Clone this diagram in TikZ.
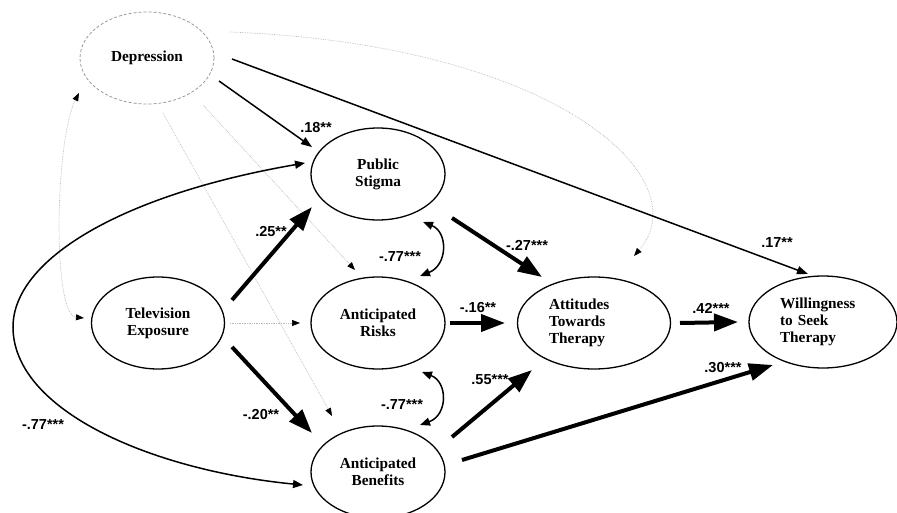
\documentclass[tikz,border=0pt]{standalone}
\usepackage{fontspec}
\setmainfont{Liberation Serif}
\newfontfamily\coeffont{Liberation Sans}
\usetikzlibrary{arrows.meta,shapes.geometric,calc}
\begin{document}
\begin{tikzpicture}[x=1pt,y=-1pt,
  ell/.style={ellipse, draw=black, line width=1.3pt, inner sep=0pt,
    minimum width=134pt, minimum height=92pt,
    font=\fontsize{15.3}{17}\selectfont\bfseries, align=center},
  dashell/.style={ell, draw=gray!80, line width=0.8pt, densely dashed},
  coef/.style={font=\coeffont\fontsize{14.5}{16}\selectfont\bfseries, inner sep=0pt},
  big/.style={line width=4pt, -{Triangle[length=24pt,width=17pt]}},
  mid/.style={line width=1.5pt, -{Triangle[length=11pt,width=8pt]}},
  dots/.style={draw=gray!55, line width=0.7pt, densely dotted,
    -{Triangle[length=8pt,width=6pt,color=black]}},
  dotstwo/.style={draw=gray!55, line width=0.7pt, densely dotted,
    {Triangle[length=8pt,width=6pt,color=black]}-{Triangle[length=8pt,width=6pt,color=black]}},
  twoway/.style={line width=1.5pt,
    {Triangle[length=10pt,width=8pt]}-{Triangle[length=10pt,width=8pt]}},
]
\useasboundingbox (0,0) rectangle (897,513);

% nodes
\node[dashell] (dep) at (147,58) {Depression};
\node[ell] (ps) at (378,174) {Public\\Stigma};
\node[ell, minimum width=133pt] (tv) at (158,323) {Television\\Exposure};
\node[ell] (ar) at (378,323) {Anticipated\\Risks};
\node[ell] (ab) at (378,472) {Anticipated\\Benefits};
\node[ell, minimum width=153pt, text width=90pt, align=left] (att) at (594,323) {Attitudes\\Towards\\Therapy};
\node[ell, minimum width=148pt, text width=86pt, align=left] (will) at (823,322) {Willingness\\to Seek\\Therapy};

% dotted paths
\draw[dotstwo] ($(dep.center)+(-68,35)$) .. controls (55,140) and (52,315) .. ($(tv.center)+(-74,-5)$);
\draw[dots] ($(dep.center)+(83,-26)$) .. controls (560,45) and (700,180) .. ($(att.center)+(40,-67)$);
\draw[dots] ($(dep.center)+(56,47)$) -- ($(ar.center)+(-23,-53)$);
\draw[dots] ($(dep.center)+(16,55)$) -- ($(ab.center)+(-46,-56)$);
\draw[dots] ($(tv.center)+(72,0)$) -- ($(ar.center)+(-78,0)$);

% medium paths
\draw[mid] ($(dep.center)+(72,23)$) -- ($(ps.center)+(-66,-27)$);
\draw[mid] ($(dep.center)+(85,1)$) -- ($(will.center)+(-15,-48)$);
\draw[twoway] ($(ps.center)+(-73,-11)$) .. controls (120,195) and (13,260) .. (13,327)
   .. controls (13,410) and (150,470) .. ($(ab.center)+(-75,13)$);
\draw[twoway] ($(ps.center)+(45,48)$) .. controls (448,232) and (448,265) .. ($(ar.center)+(42,-47)$);
\draw[twoway] ($(ar.center)+(44,49)$) .. controls (448,382) and (448,415) .. ($(ab.center)+(42,-47)$);

% thick paths
\draw[big] ($(tv.center)+(74,-23)$) -- ($(ps.center)+(-66,33)$);
\draw[big] ($(tv.center)+(74,24)$) -- ($(ab.center)+(-66,-39)$);
\draw[big] ($(ps.center)+(74,44)$) -- ($(att.center)+(-52,-46)$);
\draw[big] ($(ar.center)+(72,0)$) -- ($(att.center)+(-89,0)$);
\draw[big] ($(ab.center)+(74,-35)$) -- ($(att.center)+(-62,47)$);
\draw[big] ($(att.center)+(86,0)$) -- ($(will.center)+(-85,0)$);
\draw[big] ($(ab.center)+(84,-12)$) -- ($(will.center)+(-50,43)$);

% coefficients
\node[coef] (c18) at (316,128) {.18**};
\node[coef] (c17) at (777,243) {.17**};
\node[coef] (c25) at (271,232) {.25**};
\node[coef] (c20) at (261,415) {-.20**};
\node[coef] (c77a) at (43,425) {-.77***};
\node[coef] (c77b) at (400,257) {-.77***};
\node[coef] (c77c) at (402,405) {-.77***};
\node[coef] (c27) at (527,245) {-.27***};
\node[coef] (c16) at (478,308) {-.16**};
\node[coef] (c55) at (490,380) {.55***};
\node[coef] (c42) at (711,308) {.42***};
\node[coef] (c30) at (723,368) {.30***};
\end{tikzpicture}
\end{document}
